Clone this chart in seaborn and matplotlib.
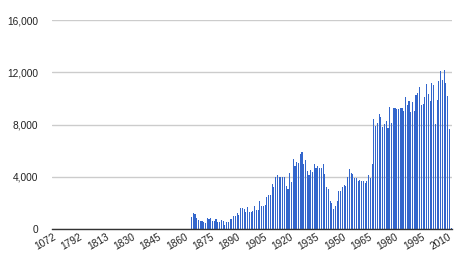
import matplotlib
matplotlib.use("Agg")
import matplotlib.pyplot as plt
import matplotlib.transforms as mtransforms
from matplotlib.ticker import FuncFormatter
import seaborn as sns
import pandas as pd

# ---- data -------------------------------------------------------------
early_years = [
    "1072", "1700", "1720", "1740", "1750", "1760", "1765", "1770", "1775", "1780",
    "1783", "1785", "1787", "1789", "1790",
    "1792", "1794", "1795", "1796", "1798", "1799", "1800", "1802", "1803", "1804",
    "1806", "1807", "1809", "1810", "1811",
    "1813", "1814", "1815", "1816", "1817", "1818", "1819", "1820", "1821", "1822",
    "1824", "1825", "1826", "1827", "1828",
]
later_years = [str(y) for y in range(1830, 2013)]
years = early_years + later_years

early_values = [
    30, 0, 0, 0, 0, 0, 0, 0, 0, 0, 0, 0, 0, 0, 0,
    5, 0, 0, 0, 0, 0, 0, 0, 0, 0, 0, 0, 0, 0, 0,
    0, 0, 0, 0, 0, 0, 0, 0, 0, 0, 0, 0, 0, 0, 0,
    0, 0, 0, 0, 0, 0, 0, 0, 0, 0, 0, 0, 0, 0, 0,
    0, 0, 0, 0, 0, 0, 0, 0, 0, 0, 0, 0, 0, 0, 0,
    0, 0, 0, 0,
]
values_1864_2012 = [
    940, 1250, 1150, 820, 690, 640, 610, 560, 430, 870,
    790, 870, 610, 610, 790, 540, 540, 660, 590, 300,
    560, 560, 790, 790, 1000, 1000, 1200, 1070, 1600, 1600,
    1530, 1330, 1710, 1300, 1300, 1400, 1790, 1450, 1450, 2120,
    1790, 1790, 1840, 2420, 2600, 2630, 3440, 3240, 3950, 4100,
    3950, 3950, 4000, 3950, 3290, 3090, 4310, 3570, 5330, 4820,
    5130, 5020, 5740, 5890, 4970, 5280, 4440, 4130, 4510, 4360,
    4970, 4670, 4820, 4640, 4640, 4970, 4180, 3240, 3060, 2170,
    1960, 1530, 1790, 2120, 2880, 2910, 3240, 3370, 3290, 4000,
    4560, 4260, 4180, 3880, 3930, 3700, 3750, 3650, 3650, 3490,
    3700, 4130, 3880, 4970, 8390, 7880, 8080, 8800, 8540, 7830,
    8010, 8290, 7700, 9360, 8130, 9230, 9230, 9180, 9180, 9280,
    9280, 9050, 10120, 9490, 9790, 8980, 9720, 9030, 10250, 10430,
    10860, 9490, 9560, 10120, 11070, 10330, 9790, 11140, 11020, 8030,
    9870, 11320, 12090, 11400, 12210, 11190, 10170, 7620, 50,
]
values = early_values + values_1864_2012

tick_labels = ["1072", "1792", "1813", "1830", "1845", "1860", "1875", "1890",
               "1905", "1920", "1935", "1950", "1965", "1980", "1995", "2010"]
y_ticks = [0, 4000, 8000, 12000, 16000]

df = pd.DataFrame({"year": years, "count": values})

# ---- figure -----------------------------------------------------------
sns.set_theme(style="white")
plt.rcParams["font.family"] = ["Liberation Sans", "DejaVu Sans"]

W, H = 460, 269
fig = plt.figure(figsize=(W / 100, H / 100), dpi=100)
ax = fig.add_axes([52 / W, 1 - 229 / H, (452 - 52) / W, (229 - 20) / H])

sns.barplot(data=df, x="year", y="count", order=years, color="#3366cc",
            saturation=1, width=0.62, errorbar=None, ax=ax, linewidth=0,
            zorder=3)

ax.set_xlim(-0.5, len(years) - 0.5)
ax.set_ylim(0, 16000)
ax.set_yticks(y_ticks)
ax.yaxis.set_major_formatter(FuncFormatter(lambda v, p: f"{int(v):,}"))
ax.grid(axis="y", color="#cccccc", linewidth=1, zorder=0)
ax.set_axisbelow(True)

pos = [years.index(t) for t in tick_labels]
ax.set_xticks(pos)
ax.set_xticklabels(tick_labels, rotation=30, ha="right", rotation_mode="anchor")
offset = mtransforms.ScaledTranslation(5 / 100, -7 / 100, fig.dpi_scale_trans)
for lbl in ax.get_xticklabels():
    lbl.set_transform(lbl.get_transform() + offset)

ax.tick_params(axis="both", length=0, labelsize=7.3, colors="#222222")
ax.tick_params(axis="y", pad=10)
ax.tick_params(axis="x", pad=2)
ax.set_xlabel("")
ax.set_ylabel("")
for s in ["top", "right", "left"]:
    ax.spines[s].set_visible(False)
ax.spines["bottom"].set_color("#333333")
ax.spines["bottom"].set_linewidth(1)
ax.spines["bottom"].set_zorder(4)

fig.savefig("out.png", dpi=100)
